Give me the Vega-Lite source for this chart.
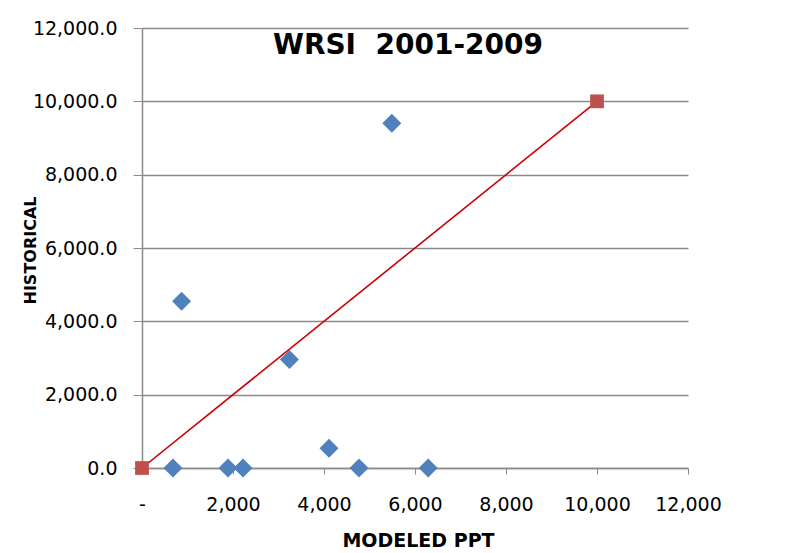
{
  "$schema": "https://vega.github.io/schema/vega-lite/v6.json",
  "width": 546,
  "height": 440,
  "autosize": {"type": "none"},
  "padding": {"left": 142, "top": 28, "right": 110, "bottom": 85},
  "background": "white",
  "title": {
    "text": "WRSI \u00a02001-2009",
    "font": "DejaVu Sans",
    "fontSize": 28,
    "fontWeight": "bold",
    "color": "#000000",
    "anchor": "middle",
    "offset": -41,
    "dx": -7
  },
  "config": {
    "view": {"stroke": null},
    "axis": {
      "labelFont": "DejaVu Sans",
      "labelFontSize": 19,
      "labelColor": "#000000",
      "labelOverlap": false,
      "labelFlush": false,
      "titleFont": "DejaVu Sans",
      "titleFontWeight": "bold",
      "titleColor": "#000000",
      "domainColor": "#8a8a8a",
      "tickColor": "#8a8a8a",
      "gridColor": "#8a8a8a",
      "domainWidth": 1.5,
      "gridWidth": 1.3
    }
  },
  "datasets": {
    "obs": [
      {"modeled": 680, "historical": 0},
      {"modeled": 870, "historical": 4550},
      {"modeled": 1890, "historical": 0},
      {"modeled": 2220, "historical": 0},
      {"modeled": 3240, "historical": 2960},
      {"modeled": 4110, "historical": 540},
      {"modeled": 4770, "historical": 0},
      {"modeled": 5490, "historical": 9400},
      {"modeled": 6290, "historical": 0}
    ],
    "oneToOne": [
      {"modeled": 0, "historical": 0},
      {"modeled": 10000, "historical": 10000}
    ]
  },
  "encoding": {
    "x": {
      "field": "modeled",
      "type": "quantitative",
      "scale": {"domain": [0, 12000], "nice": false, "zero": true},
      "axis": {
        "title": "MODELED PPT",
        "titleFontSize": 19,
        "values": [0, 2000, 4000, 6000, 8000, 10000, 12000],
        "labelExpr": "datum.value == 0 ? '-' : format(datum.value, ',')",
        "grid": false,
        "tickSize": 6,
        "labelPadding": 21,
        "titleX": 276,
        "titleY": 72,
        "titleBaseline": "middle"
      }
    },
    "y": {
      "field": "historical",
      "type": "quantitative",
      "scale": {"domain": [0, 12000], "nice": false},
      "axis": {
        "title": "HISTORICAL",
        "titleFontSize": 16,
        "values": [0, 2000, 4000, 6000, 8000, 10000, 12000],
        "format": ",.1f",
        "grid": true,
        "tickSize": 9,
        "labelPadding": 16,
        "titleX": -112,
        "titleY": 222,
        "titleAngle": -90,
        "titleAlign": "center",
        "titleBaseline": "middle"
      }
    }
  },
  "layer": [
    {
      "data": {"name": "oneToOne"},
      "mark": {"type": "line", "color": "#cc0000", "strokeWidth": 1.6},
      "encoding": {}
    },
    {
      "data": {"name": "oneToOne"},
      "mark": {"type": "point", "shape": "square", "filled": true, "size": 190, "color": "#c0504d", "opacity": 1}
    },
    {
      "data": {"name": "obs"},
      "mark": {"type": "point", "shape": "diamond", "filled": true, "size": 360, "color": "#4f81bd", "opacity": 1}
    }
  ]
}
